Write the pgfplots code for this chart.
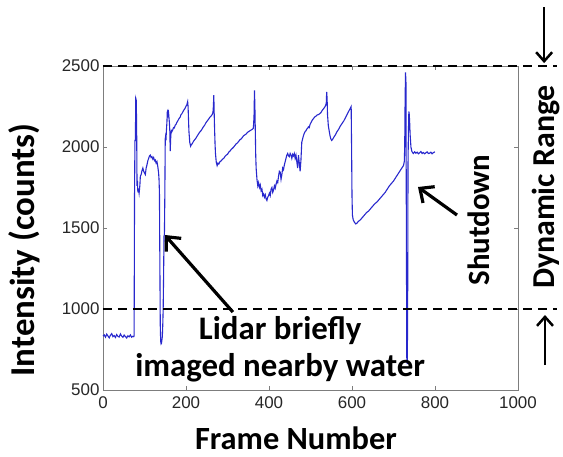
\documentclass[border=0pt]{standalone}
\usepackage{fontspec}
\setmainfont{Carlito}
\newfontfamily\arialfont{Liberation Sans}
\usepackage{pgfplots}
\pgfplotsset{compat=1.18}
\usetikzlibrary{arrows.meta}

\definecolor{traceblue}{RGB}{40,40,205}
\definecolor{framegray}{RGB}{125,125,125}

\begin{document}
\begin{tikzpicture}
\useasboundingbox (-103bp,-67bp) rectangle (460bp,390bp);
\begin{axis}[
  scale only axis, width=415bp, height=324bp,
  xmin=0, xmax=1000, ymin=500, ymax=2500,
  xtick={0,200,...,1000}, ytick={500,1000,...,2500},
  tick align=inside, major tick length=4bp,
  axis line style={framegray, line width=0.8bp},
  tick style={framegray, line width=0.6bp},
  ticklabel style={font=\arialfont\fontsize{17}{17}\selectfont, text=black!85},
  xticklabel style={yshift=-3bp},
  /pgf/number format/assume math mode=true,
  /pgf/number format/1000 sep={},
  clip=false,
  xlabel={Frame Number}, ylabel={Intensity (counts)},
  xlabel style={font=\bfseries\fontsize{32.5}{32.5}\selectfont,
    at={(axis description cs:0.465,-0.184)}, anchor=base, inner sep=0pt},
  ylabel style={font=\bfseries\fontsize{35}{35}\selectfont,
    at={(axis description cs:-0.166,0.432)}, anchor=base, inner sep=0pt},
]
% intensity trace
\addplot[traceblue, line width=1.1bp] coordinates {
(0,832) (3,840) (6,826) (9,845) (12,833) (15,822) (18,838) (21,848) (24,829) (27,836)
(30,824) (33,842) (36,831) (39,827) (42,846) (45,833) (48,825) (51,839) (54,830) (57,821)
(60,835) (63,828) (66,840) (69,826) (72,832) (74,829) (75,835)
(76,1710) (77,2040) (78,2040) (79,2300) (80,2290) (81,2150) (82,1760) (83,1790) (84,1720)
(85,1740) (86,1735) (87,1715) (88,1740) (89,1770) (90,1820) (92,1830) (94,1855) (96,1870)
(98,1850) (100,1840) (102,1830) (104,1870) (106,1890) (108,1915) (110,1930) (112,1945)
(114,1950) (116,1935) (118,1940) (120,1925) (122,1935) (124,1915) (126,1920) (128,1900)
(130,1910) (132,1880) (134,1840) (135,1800) (136,1720) (137,1300) (138,900) (139,800)
(140,785) (141,790) (142,810) (143,830) (144,900) (145,1000) (146,1200) (147,1450)
(148,1460) (149,1700) (150,2050) (151,2070) (152,2060) (153,2110) (154,2150) (155,2220)
(156,2225) (157,2200) (158,2210) (159,2180) (160,2150) (161,2100) (162,1975) (163,2050)
(164,2090) (165,2100) (166,2095) (168,2105) (170,2120) (172,2118) (174,2135) (176,2140)
(178,2152) (180,2160) (182,2170) (184,2178) (186,2185) (188,2200) (190,2205) (192,2215)
(194,2225) (196,2232) (198,2240) (200,2252) (202,2260) (204,2280) (205,2250) (207,2100)
(209,2030) (211,2005) (213,2015) (215,2020) (218,2035) (221,2045) (224,2055) (227,2068)
(230,2080) (233,2092) (236,2100) (239,2112) (242,2125) (245,2135) (248,2150) (251,2160)
(254,2170) (257,2182) (260,2190) (263,2200) (265,2215) (266,2250) (267,2320) (268,2200)
(269,2100) (270,2020) (271,1960) (273,1905) (275,1885) (277,1900) (279,1895) (282,1910)
(285,1915) (288,1925) (291,1930) (294,1942) (297,1950) (300,1955) (303,1968) (306,1975)
(309,1985) (312,1992) (315,2000) (318,2010) (321,2020) (324,2025) (327,2035) (330,2045)
(333,2050) (336,2060) (339,2070) (342,2075) (345,2080) (348,2090) (351,2095) (354,2100)
(357,2105) (360,2110) (362,2115) (363,2140) (364,2200) (365,2350) (366,2250) (367,2100)
(368,1950) (369,1870) (371,1800) (373,1760) (375,1780) (377,1750) (379,1765) (381,1730)
(383,1740) (385,1700) (387,1710) (389,1690) (391,1705) (393,1680) (395,1670) (397,1690)
(399,1700) (401,1715) (403,1700) (405,1740) (407,1750) (409,1720) (411,1735) (413,1760)
(415,1745) (417,1770) (419,1790) (421,1780) (423,1820) (425,1850) (427,1845) (429,1800)
(431,1830) (433,1870) (435,1860) (437,1890) (439,1910) (441,1930) (443,1950) (445,1960)
(447,1945) (449,1940) (451,1960) (453,1950) (455,1930) (457,1955) (459,1945) (461,1960)
(463,1930) (465,1950) (467,1910) (469,1870) (471,1950) (473,1900) (475,1850) (477,1920)
(479,2030) (481,2050) (483,2070) (485,2085) (487,2095) (489,2100) (491,2110) (493,2115)
(495,2125) (497,2120) (499,2140) (501,2150) (504,2165) (507,2175) (510,2185) (513,2190)
(516,2198) (519,2200) (522,2205) (525,2212) (528,2225) (531,2235) (534,2245) (536,2255)
(538,2270) (539,2340) (540,2300) (541,2200) (543,2130) (545,2100) (547,2070) (549,2050)
(551,2040) (553,2045) (556,2060) (560,2075) (564,2095) (568,2110) (572,2130) (576,2145)
(580,2160) (584,2180) (588,2200) (592,2220) (596,2240) (598,2250) (599,2000) (600,1700)
(601,1580) (603,1550) (606,1535) (609,1525) (612,1530) (615,1540) (620,1550) (625,1565)
(630,1580) (635,1595) (640,1605) (645,1620) (650,1635) (655,1650) (660,1660) (665,1675)
(670,1690) (675,1705) (680,1720) (685,1740) (690,1760) (695,1775) (700,1790) (705,1810)
(710,1830) (715,1850) (720,1870) (724,1885) (726,1910) (727,2000) (728,2300) (729,2460)
(730,2400) (731,1500) (732,700) (733,660) (734,900) (735,1900) (736,2100) (737,2220)
(738,2200) (739,2150) (740,2080) (742,2000) (744,1975) (746,1965) (748,1960) (751,1970)
(754,1962) (757,1968) (760,1958) (763,1965) (766,1972) (769,1960) (772,1966) (775,1958)
(778,1964) (781,1970) (784,1960) (787,1962) (790,1968) (793,1958) (796,1965) (800,1970)
};
% dynamic range limits
\draw[black, line width=2bp, dash pattern=on 9bp off 6bp] (axis cs:0,2500) -- (axis cs:1094,2500);
\draw[black, line width=2bp, dash pattern=on 9bp off 6bp] (axis cs:0,1000) -- (axis cs:1094,1000);
\draw[line width=2.5bp, -{Straight Barb[length=9bp,width=16bp,line width=2.5bp]}] (axis cs:1063,2864) -- (axis cs:1063,2518);
\draw[line width=2.5bp, -{Straight Barb[length=9bp,width=16bp,line width=2.5bp]}] (axis cs:1065,654) -- (axis cs:1065,963);
\node[rotate=90, font=\bfseries\fontsize{32}{32}\selectfont] at (axis cs:1067,1753) {Dynamic Range};
% annotations
\node[rotate=90, font=\bfseries\fontsize{31}{31}\selectfont] at (axis cs:906,1549) {Shutdown};
\draw[line width=3.2bp, -{Straight Barb[length=11bp,width=20bp,line width=3.2bp]}] (axis cs:853,1580) -- (axis cs:759,1753);
\draw[line width=3.2bp, -{Straight Barb[length=11bp,width=20bp,line width=3.2bp]}] (axis cs:313,981) -- (axis cs:149,1457);
\node[anchor=base, font=\bfseries\fontsize{33}{33}\selectfont] at (axis cs:427,809) {Lidar briefly};
\node[anchor=base, font=\bfseries\fontsize{33}{33}\selectfont] at (axis cs:427,586) {imaged nearby water};
\end{axis}
\end{tikzpicture}
\end{document}
